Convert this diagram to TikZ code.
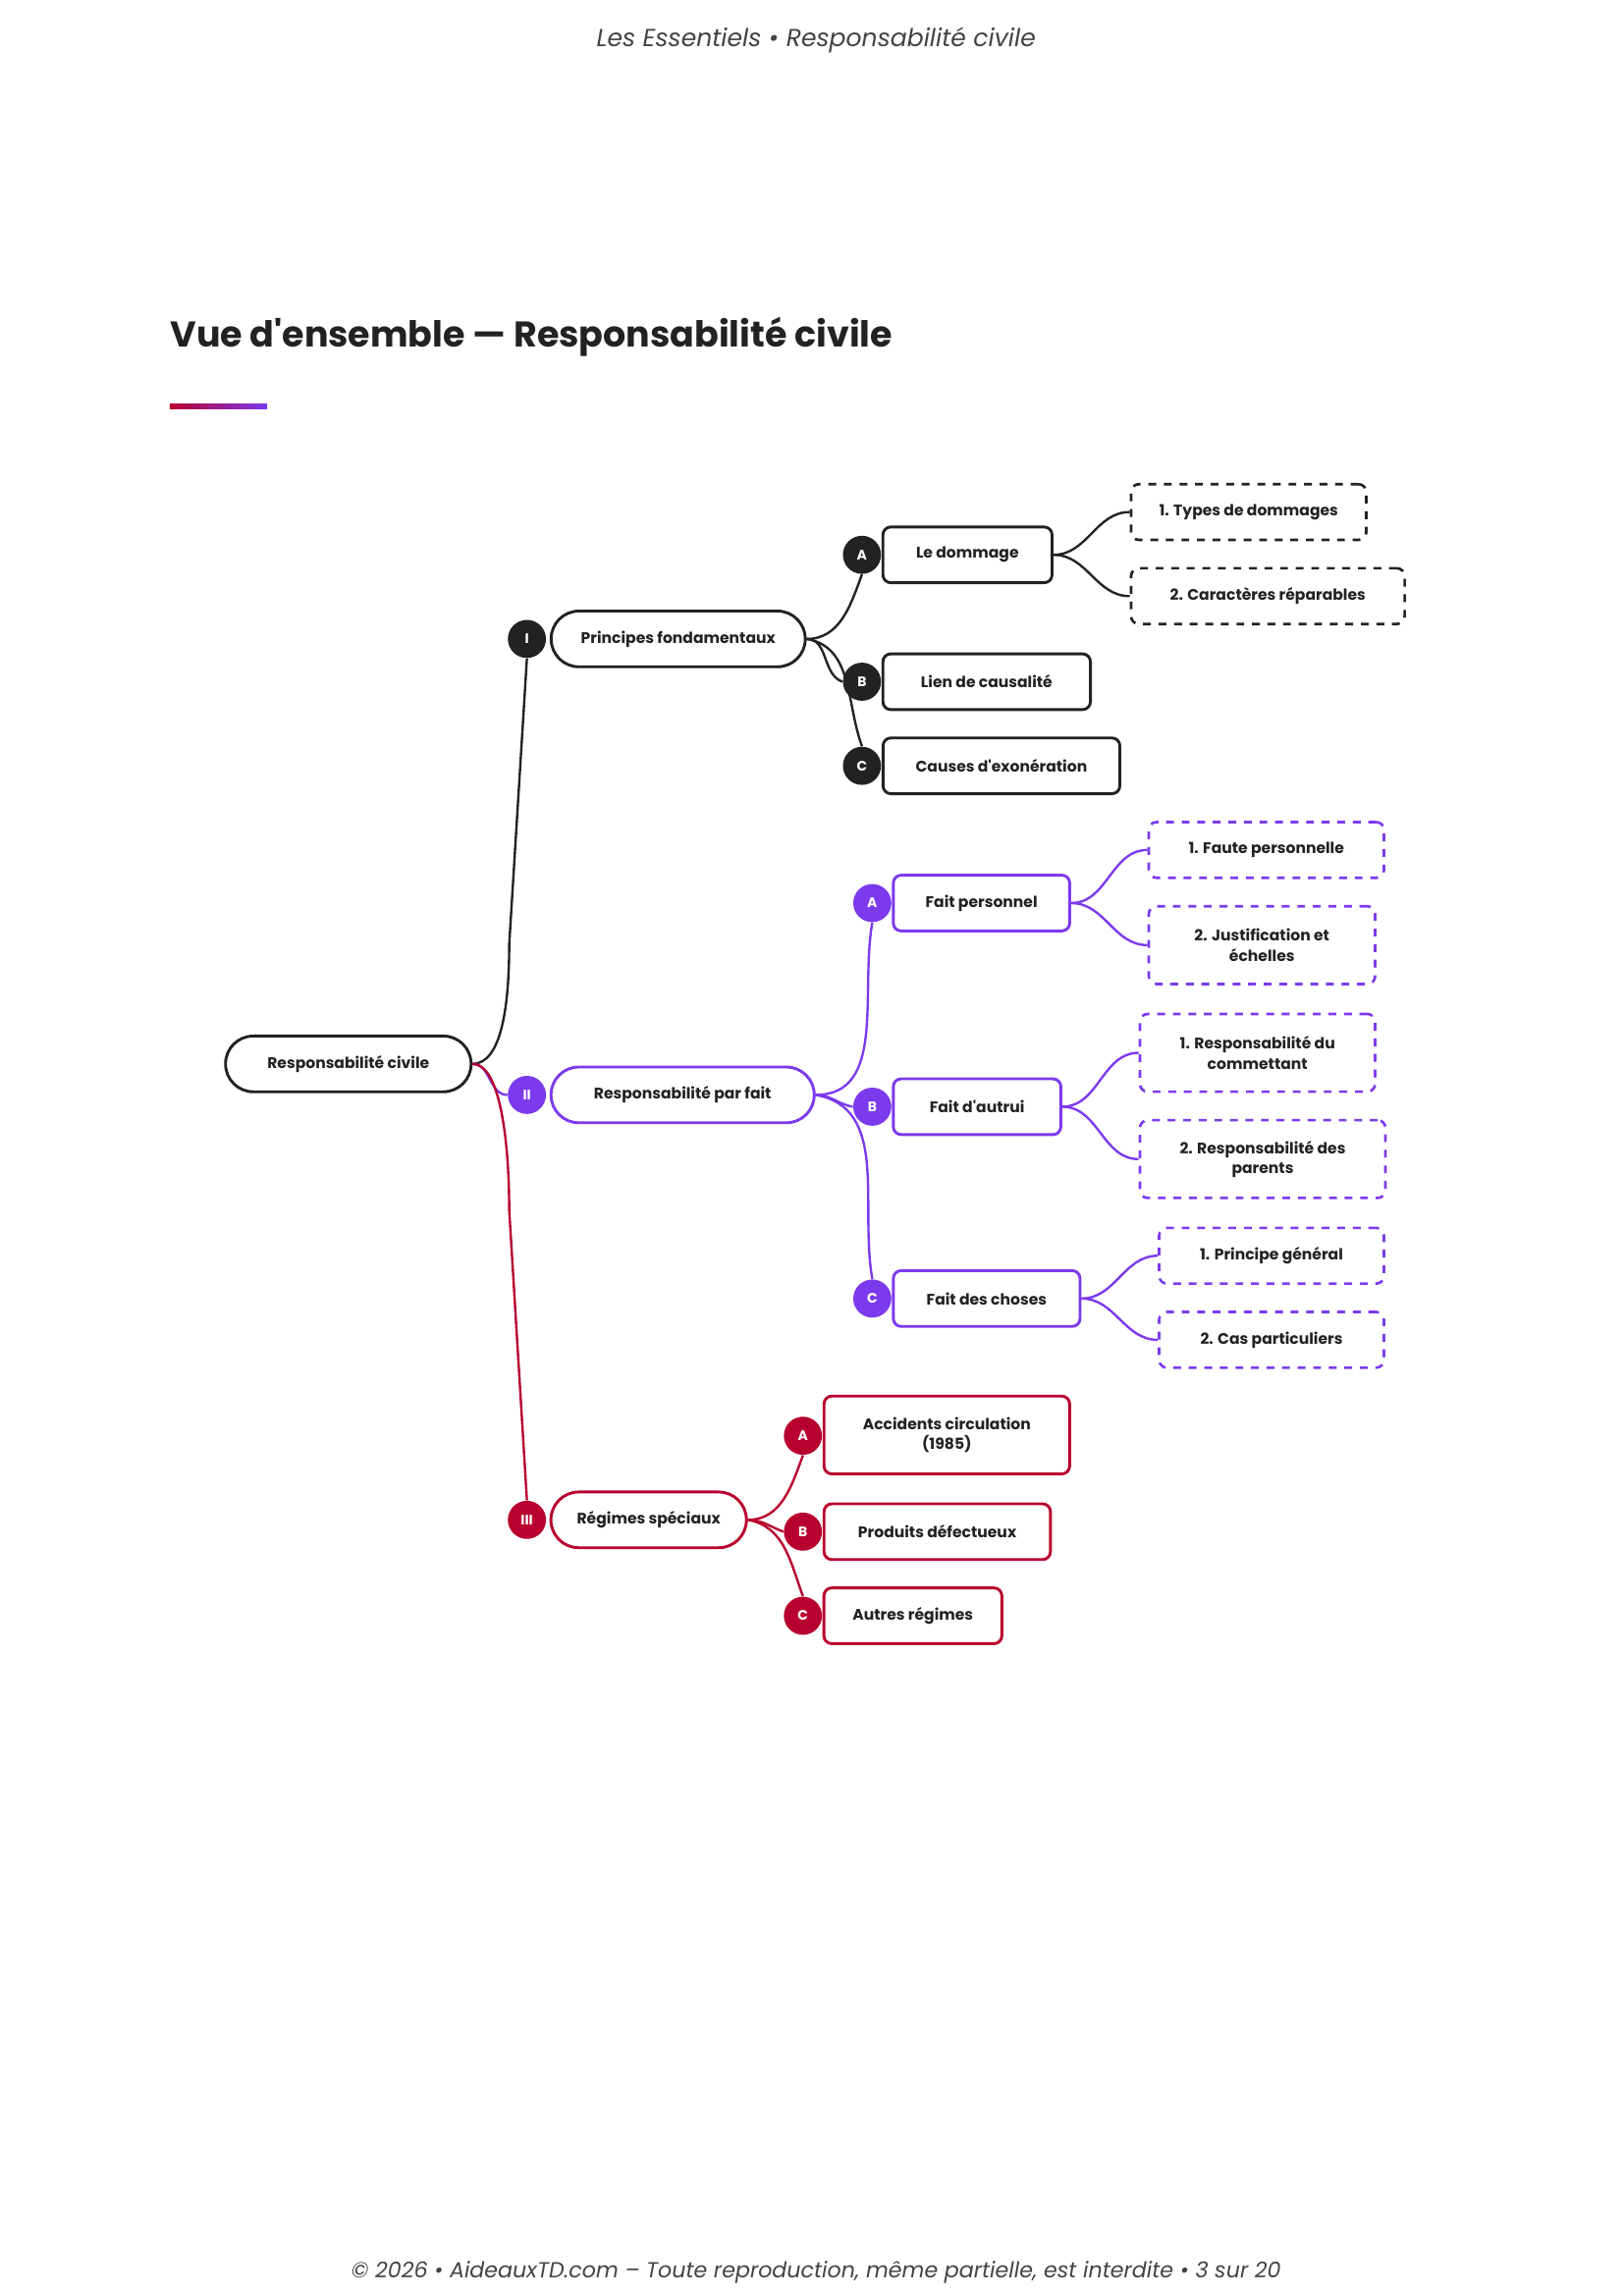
\documentclass[tikz,border=0pt]{standalone}
\usepackage{fontspec}
\setmainfont{Poppins}[Ligatures=TeXOff]
\usetikzlibrary{positioning}
\definecolor{ink}{HTML}{222222}
\definecolor{violet}{HTML}{7C3AED}
\definecolor{rouge}{HTML}{B8002E}
\begin{document}
\begin{tikzpicture}[x=0.02cm,y=-0.02cm,
  every node/.style={font=\fontsize{5.9}{7.6}\selectfont\bfseries, text=ink},
  pill/.style={draw=#1, line width=1.1pt, rounded corners=10.7pt, minimum height=21.5pt, fill=white},
  boite/.style={draw=#1, line width=1.1pt, rounded corners=3pt, minimum height=21.5pt, fill=white, align=center},
  pointille/.style={draw=#1, line width=1pt, dashed, rounded corners=3pt, minimum height=21.5pt, fill=white, align=center},
  pastille/.style={circle, fill=#1, text=white, minimum size=14.7pt, inner sep=0pt, font=\fontsize{5.3}{6}\selectfont\bfseries},
  lien/.style={draw=#1, line width=0.9pt}]
\useasboundingbox (0,0) rectangle (1100,1556);
% en-tete, titre, pied
\node[font=\fontsize{9.5}{11}\selectfont\itshape, text=ink!85] (entete) at (553,27) {Les Essentiels • Responsabilité civile};
\node[font=\fontsize{13.8}{16}\selectfont\bfseries, anchor=west, inner sep=0pt] (titre) at (115,228) {Vue d'ensemble — Responsabilité civile};
\shade[left color=rouge, right color=violet] (115,274) rectangle (181,277);
\node[font=\fontsize{8.4}{10}\selectfont\itshape, text=ink!85] (pied) at (553,1540) {© 2026 • AideauxTD.com – Toute reproduction, même partielle, est interdite • 3 sur 20};

% racine
\node[pill=ink, minimum width=94.7pt] (racine) at (236,721) {Responsabilité civile};

% I
\node[pastille=ink] (pI) at (357,433) {I};
\node[pill=ink, minimum width=98pt] (princ) at (459.5,433) {Principes fondamentaux};
\node[pastille=ink] (pIA) at (584,376) {A};
\node[boite=ink, minimum width=65.2pt] (domm) at (655.5,376) {Le dommage};
\node[pointille=ink, minimum width=90.7pt] (types) at (846,347) {1. Types de dommages};
\node[pointille=ink, minimum width=105.5pt] (carac) at (859,404) {2. Caractères réparables};
\node[pastille=ink] (pIB) at (584,462) {B};
\node[boite=ink, minimum width=80pt] (lien) at (668.5,462) {Lien de causalité};
\node[pastille=ink] (pIC) at (584,519) {C};
\node[boite=ink, minimum width=91.3pt] (exon) at (678.5,519) {Causes d'exonération};

% II
\node[pastille=violet] (pII) at (357,742) {II};
\node[pill=violet, minimum width=101.5pt] (fait) at (462.5,742) {Responsabilité par fait};
\node[pastille=violet] (pIIA) at (591,612) {A};
\node[boite=violet, minimum width=68pt] (perso) at (665,612) {Fait personnel};
\node[pointille=violet, minimum width=90.7pt] (faute) at (858,576) {1. Faute personnelle};
\node[pointille=violet, minimum width=87.3pt, minimum height=30pt] (justif) at (855,640.5) {2. Justification et\\échelles};
\node[pastille=violet] (pIIB) at (591,750) {B};
\node[boite=violet, minimum width=64.6pt] (autrui) at (662,750) {Fait d'autrui};
\node[pointille=violet, minimum width=90.7pt, minimum height=30pt] (comm) at (852,713.5) {1. Responsabilité du\\commettant};
\node[pointille=violet, minimum width=94.7pt, minimum height=30pt] (parents) at (855.5,785.5) {2. Responsabilité des\\parents};
\node[pastille=violet] (pIIC) at (591,880) {C};
\node[boite=violet, minimum width=72pt] (choses) at (668.5,880) {Fait des choses};
\node[pointille=violet, minimum width=86.7pt] (gener) at (861.5,851) {1. Principe général};
\node[pointille=violet, minimum width=86.7pt] (partic) at (861.5,908) {2. Cas particuliers};

% III
\node[pastille=rouge] (pIII) at (357,1030) {III};
\node[pill=rouge, minimum width=75.4pt] (speciaux) at (439.5,1030) {Régimes spéciaux};
\node[pastille=rouge] (pIIIA) at (544,973) {A};
\node[boite=rouge, minimum width=94.7pt, minimum height=30pt] (acc) at (641.5,972.5) {Accidents circulation\\(1985)};
\node[pastille=rouge] (pIIIB) at (544,1038) {B};
\node[boite=rouge, minimum width=87.3pt] (prod) at (635,1038) {Produits défectueux};
\node[pastille=rouge] (pIIIC) at (544,1095) {C};
\node[boite=rouge, minimum width=68.6pt] (autres) at (618.5,1095) {Autres régimes};

% liaisons
\path[lien=ink] (racine.east) .. controls +(20,0) and +(0,40) .. (345,640) -- (pI.south);
\path[lien=violet] (racine.east) to[out=0,in=180] (pII.west);
\path[lien=rouge] (racine.east) .. controls +(20,0) and +(0,-40) .. (345,820) -- (pIII.north);
\path[lien=ink] (princ.east) to[out=0,in=-110] (pIA.south);
\path[lien=ink] (princ.east) to[out=0,in=160] (pIB.west);
\path[lien=ink] (princ.east) to[out=-10,in=110] (pIC.north);
\foreach \e in {types,carac} \path[lien=ink] (domm.east) to[out=0,in=180] (\e.west);
\path[lien=violet] (fait.east) to[out=0,in=-100] (pIIA.south);
\path[lien=violet] (fait.east) to[out=0,in=170] (pIIB.west);
\path[lien=violet] (fait.east) to[out=-10,in=100] (pIIC.north);
\foreach \e in {faute,justif} \path[lien=violet] (perso.east) to[out=0,in=180] (\e.west);
\foreach \e in {comm,parents} \path[lien=violet] (autrui.east) to[out=0,in=180] (\e.west);
\foreach \e in {gener,partic} \path[lien=violet] (choses.east) to[out=0,in=180] (\e.west);
\path[lien=rouge] (speciaux.east) to[out=0,in=-110] (pIIIA.south);
\path[lien=rouge] (speciaux.east) to[out=0,in=160] (pIIIB.west);
\path[lien=rouge] (speciaux.east) to[out=-10,in=110] (pIIIC.north);
\end{tikzpicture}
\end{document}
